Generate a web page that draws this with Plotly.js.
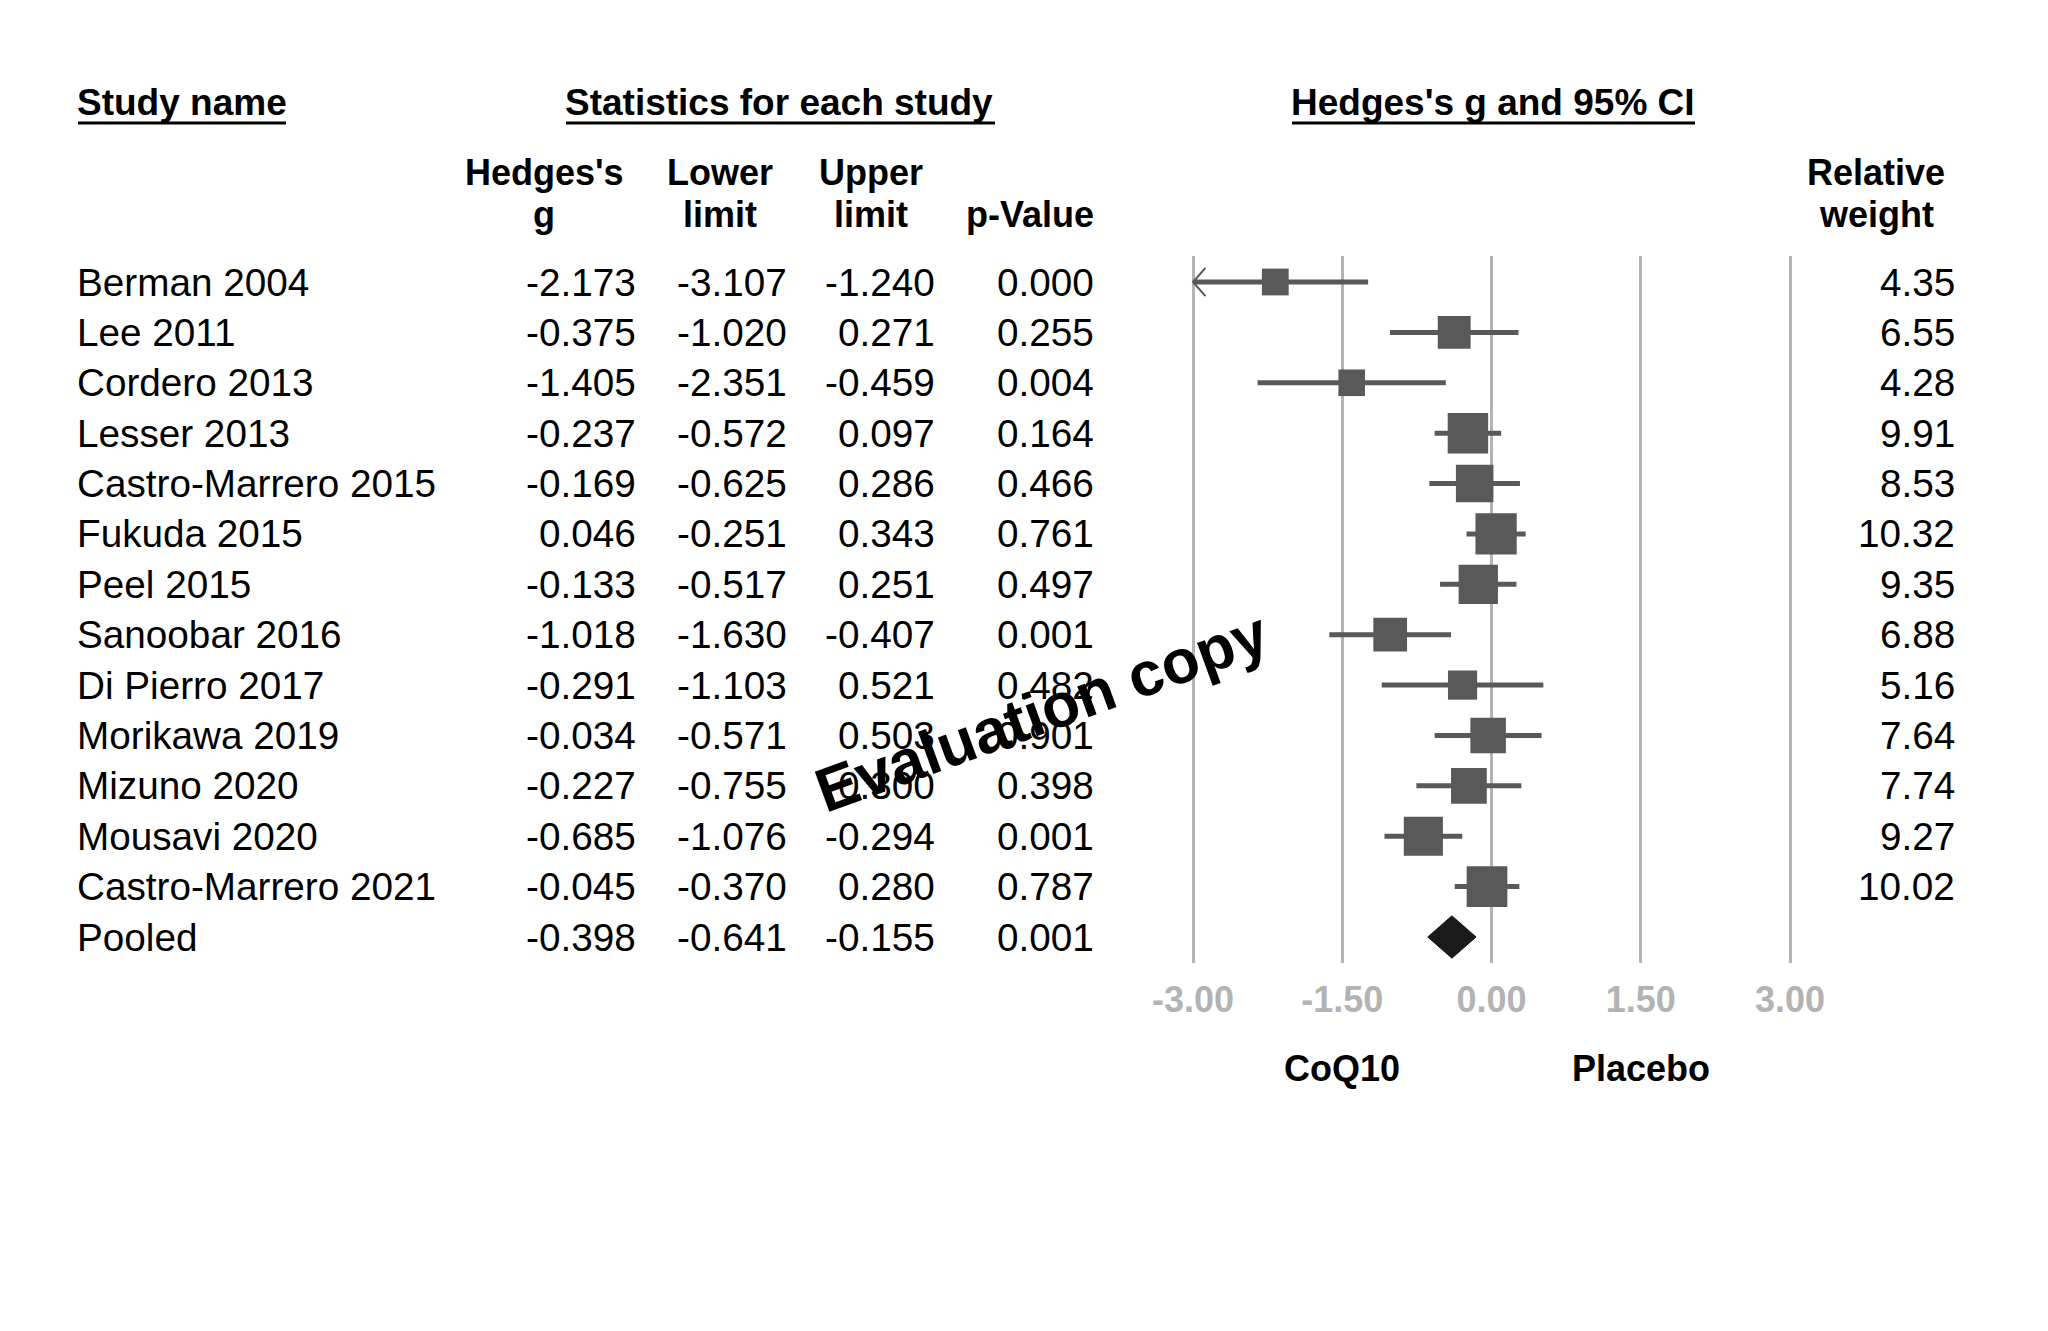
<!DOCTYPE html>
<html>
<head>
<meta charset="utf-8">
<script src="https://cdn.plot.ly/plotly-3.0.1.min.js"></script>
<style>html,body{margin:0;padding:0;background:#ffffff;}</style>
</head>
<body>
<div id="chart" style="width:2048px;height:1331px;"></div>
<script>
// ---------------- DATA ----------------
const studies = ["Berman 2004", "Lee 2011", "Cordero 2013", "Lesser 2013", "Castro-Marrero 2015",
  "Fukuda 2015", "Peel 2015", "Sanoobar 2016", "Di Pierro 2017", "Morikawa 2019",
  "Mizuno 2020", "Mousavi 2020", "Castro-Marrero 2021"];
const hedgesG   = [-2.173, -0.375, -1.405, -0.237, -0.169, 0.046, -0.133, -1.018, -0.291, -0.034, -0.227, -0.685, -0.045];
const lowerLim  = [-3.107, -1.020, -2.351, -0.572, -0.625, -0.251, -0.517, -1.630, -1.103, -0.571, -0.755, -1.076, -0.370];
const upperLim  = [-1.240,  0.271, -0.459,  0.097,  0.286,  0.343,  0.251, -0.407,  0.521,  0.503,  0.300, -0.294,  0.280];
const pValues   = [0.000, 0.255, 0.004, 0.164, 0.466, 0.761, 0.497, 0.001, 0.482, 0.901, 0.398, 0.001, 0.787];
const relWeight = [4.35, 6.55, 4.28, 9.91, 8.53, 10.32, 9.35, 6.88, 5.16, 7.64, 7.74, 9.27, 10.02];

const pooledLabel = "Pooled";
const pooledG = -0.398, pooledLower = -0.641, pooledUpper = -0.155, pooledP = 0.001;

const axisTicks = [-3, -1.5, 0, 1.5, 3];
const favourLabels = ["CoQ10", "Placebo"];
const favourAt = [-1.5, 1.5];
const sectionTitles = ["Study name", "Statistics for each study", "Hedges's g and 95% CI"];
const colHeadTop = ["Hedges's", "Lower", "Upper", "", "Relative"];
const colHeadBottom = ["g", "limit", "limit", "p-Value", "weight"];
const watermark = "Evaluation copy";

// ---------------- STYLE / LAYOUT CONSTANTS ----------------
const W = 2048, H = 1331;
const FONT = "Liberation Sans, Arial, Helvetica, sans-serif";
const px = v => v / W;            // horizontal pixel -> paper
const py = v => 1 - v / H;        // vertical pixel -> paper
const markColor = "#595959";
const gridColor = "#b3b3b3";
const xMinShown = -3;             // CI clipped at the outermost gridline

// column right edges (pixels) for the numeric table
const colRight = [638, 789, 937, 1096];
const weightRight = 1957;
const nameLeft = 75;

// ---------------- TRACES ----------------
const ciX = [], ciY = [], arrX = [], arrY = [];
studies.forEach((s, i) => {
  ciX.push(Math.max(lowerLim[i], xMinShown), upperLim[i], null);
  ciY.push(i, i, null);
  if (lowerLim[i] < xMinShown) {
    arrX.push(xMinShown + 0.125, xMinShown, xMinShown + 0.125, null);
    arrY.push(i - 0.28, i, i + 0.28, null);
  }
});
const rowIdx = studies.map((s, i) => i);
const pooledRow = studies.length;

const traces = [
  { type: "scatter", mode: "lines", x: ciX, y: ciY, line: { color: markColor, width: 5 },
    hoverinfo: "skip", showlegend: false, cliponaxis: false, opacity: 1 },
  { type: "scatter", mode: "lines", x: arrX, y: arrY, line: { color: markColor, width: 2 },
    hoverinfo: "skip", showlegend: false, cliponaxis: false, opacity: 1 },
  { type: "scatter", mode: "markers", x: hedgesG, y: rowIdx, opacity: 1,
    marker: { symbol: "square", color: markColor, opacity: 1, size: relWeight.map(w => 12.85 * Math.sqrt(w)), line: { width: 0 } },
    showlegend: false, cliponaxis: false },
  { type: "scatter", mode: "lines", fill: "toself", fillcolor: "#1a1a1a",
    x: [pooledLower, pooledG, pooledUpper, pooledG, pooledLower],
    y: [pooledRow, pooledRow - 0.42, pooledRow, pooledRow + 0.42, pooledRow],
    line: { color: "#1a1a1a", width: 1 }, showlegend: false, hoverinfo: "skip" }
];

// ---------------- ANNOTATIONS ----------------
const ann = [];
const rowFont = { family: FONT, size: 38.7, color: "#000000" };
const boldFont = { family: FONT, size: 36, color: "#000000", weight: "bold" };
const titleFont = { family: FONT, size: 37, color: "#000000", weight: "bold" };
const allNames = studies.concat([pooledLabel]);
const allG = hedgesG.concat([pooledG]);
const allLo = lowerLim.concat([pooledLower]);
const allHi = upperLim.concat([pooledUpper]);
const allP = pValues.concat([pooledP]);

allNames.forEach((name, i) => {
  ann.push({ text: name, xref: "paper", yref: "y", x: px(nameLeft), y: i, xanchor: "left", yanchor: "middle", showarrow: false, font: rowFont });
  [allG[i], allLo[i], allHi[i], allP[i]].forEach((v, c) => {
    ann.push({ text: v.toFixed(3), xref: "paper", yref: "y", x: px(colRight[c]), y: i, xanchor: "right", yanchor: "middle", showarrow: false, font: rowFont });
  });
  if (i < relWeight.length) {
    ann.push({ text: relWeight[i].toFixed(2), xref: "paper", yref: "y", x: px(weightRight), y: i, xanchor: "right", yanchor: "middle", showarrow: false, font: rowFont });
  }
});

// section titles
const titleX = [[75, "left"], [779, "center"], [1493, "center"]];
sectionTitles.forEach((t, k) => {
  ann.push({ text: t, xref: "paper", yref: "paper", x: px(titleX[k][0]), y: py(103), xanchor: titleX[k][1], yanchor: "middle", showarrow: false, font: titleFont });
});
// column headers
const headX = [[544, "center"], [720, "center"], [871, "center"], [1096, "right"], [1876, "center"]];
colHeadTop.forEach((t, k) => {
  if (t) ann.push({ text: t, xref: "paper", yref: "paper", x: px(headX[k][0]), y: py(172), xanchor: headX[k][1], yanchor: "middle", showarrow: false, font: boldFont });
});
colHeadBottom.forEach((t, k) => {
  ann.push({ text: t, xref: "paper", yref: "paper", x: px(headX[k][0]), y: py(214), xanchor: headX[k][1], yanchor: "middle", showarrow: false, font: boldFont });
});
// favour labels
favourLabels.forEach((t, k) => {
  ann.push({ text: t, xref: "x", yref: "paper", x: favourAt[k], y: py(1068), xanchor: "center", yanchor: "middle", showarrow: false, font: boldFont });
});
// watermark
ann.push({ text: watermark, xref: "paper", yref: "paper", x: px(1042), y: py(712), xanchor: "center", yanchor: "middle",
  textangle: -20, showarrow: false, font: { family: FONT, size: 62, color: "#000000", weight: "bold" } });

// underline shapes
const underlines = [[78, 286], [566, 995], [1292, 1695]];
const shapes = underlines.map(u => ({ type: "line", xref: "paper", yref: "paper", x0: px(u[0]), x1: px(u[1]), y0: py(123), y1: py(123), line: { color: "#000000", width: 3 } }));

// ---------------- LAYOUT ----------------
const pxPerUnit = (1790 - 1193) / 6;
const layout = {
  width: W, height: H,
  margin: { l: 0, r: 0, t: 0, b: 0 },
  paper_bgcolor: "#ffffff", plot_bgcolor: "rgba(0,0,0,0)",
  showlegend: false,
  xaxis: {
    domain: [px(1193 - 0.3 * pxPerUnit), px(1790 + 0.3 * pxPerUnit)],
    range: [-3.3, 3.3],
    showgrid: true, gridcolor: gridColor, gridwidth: 3,
    zeroline: false, showline: false, ticks: "",
    tickvals: axisTicks, ticktext: axisTicks.map(v => v.toFixed(2)),
    tickfont: { family: FONT, size: 36, color: gridColor, weight: "bold" },
    ticklabelstandoff: 12,
    fixedrange: true
  },
  yaxis: {
    domain: [py(963), py(256)],
    range: [13.516, -0.516],
    showgrid: false, zeroline: false, showline: false, showticklabels: false, ticks: "",
    fixedrange: true
  },
  annotations: ann,
  shapes: shapes
};

Plotly.newPlot("chart", traces, layout, { displayModeBar: false, staticPlot: true });
</script>
</body>
</html>
